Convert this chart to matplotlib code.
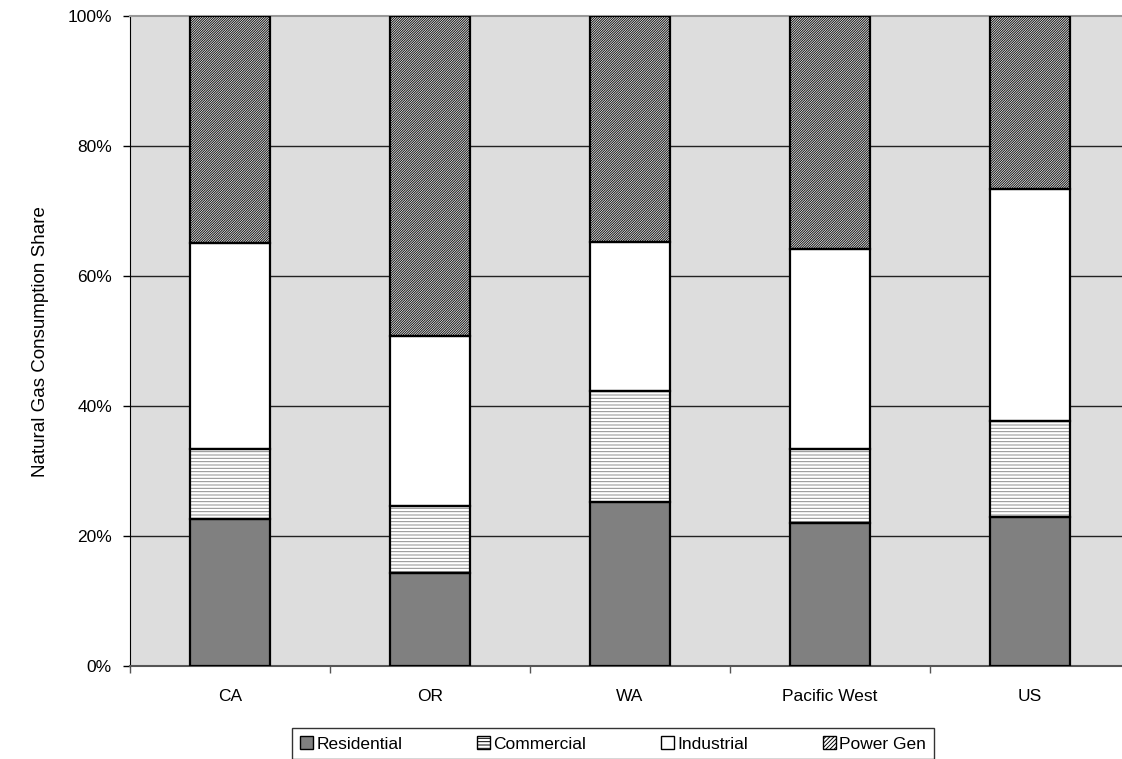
import numpy as np
import matplotlib
matplotlib.use("Agg")
import matplotlib.pyplot as plt
from matplotlib.ticker import FuncFormatter
from matplotlib.patches import Patch

plt.rcParams['font.family'] = ['Liberation Sans', 'DejaVu Sans']
plt.rcParams['hatch.linewidth'] = 0.7

# shares in percent
regions = ['CA', 'OR', 'WA', 'Pacific West', 'US']
residential = [22.6, 14.4, 25.3, 22.1, 23.0]
commercial = [10.8, 10.2, 17.1, 11.4, 14.8]
industrial = [31.8, 26.2, 22.9, 30.7, 35.7]
power_gen = [34.8, 49.2, 34.7, 35.8, 26.5]

series = [
    ('Residential', residential),
    ('Commercial', commercial),
    ('Industrial', industrial),
    ('Power Gen', power_gen),
]

fig = plt.figure(figsize=(11.22, 7.59), dpi=100)
# plot area runs off the right edge like the source image
ax = fig.add_axes([130/1122, 92.7/759, 1000/1122, 650/759])
ax.set_facecolor('#dddddd')

x = np.arange(len(regions))
w = 0.4
bottom = np.zeros(len(regions))

styles = {
    'Residential': dict(color='#808080', hatch=None, hcol='#808080'),
    'Commercial': dict(color='white', hatch='-----', hcol='#8c8c8c'),
    'Industrial': dict(color='white', hatch=None, hcol='white'),
    'Power Gen': dict(color='white', hatch='//////////////', hcol='#111111'),
}

for name, vals in series:
    vals = np.array(vals)
    st = styles[name]
    ax.bar(x, vals, w, bottom=bottom, color=st['color'], hatch=st['hatch'],
           edgecolor=st['hcol'], linewidth=0, zorder=3)
    ax.bar(x, vals, w, bottom=bottom, fill=False, edgecolor='black',
           linewidth=1.6, zorder=4)
    bottom = bottom + vals

ax.set_xlim(-0.5, len(regions) - 0.5)
ax.set_ylim(0, 100)
ax.set_yticks([0, 20, 40, 60, 80, 100])
ax.yaxis.set_major_formatter(FuncFormatter(lambda v, p: '%d%%' % v))
ax.set_xticks(x)
ax.set_xticklabels(regions, fontsize=12.5)
ax.set_xticks(np.arange(-0.5, len(regions), 1.0), minor=True)
ax.tick_params(axis='x', which='major', length=0, pad=16)
ax.tick_params(axis='x', which='minor', length=5, width=1, color='#555555', direction='out')
ax.tick_params(axis='y', length=5, width=1, labelsize=12.5, pad=8)

for v in [20, 40, 60, 80]:
    ax.axhline(v, color='#222222', linewidth=1, zorder=1)

ax.spines['top'].set_color('#999999')
ax.spines['top'].set_linewidth(1.5)
ax.spines['right'].set_visible(False)
ax.spines['left'].set_color('black')
ax.spines['bottom'].set_color('#555555')
ax.spines['bottom'].set_linewidth(1.5)

ax.set_ylabel('Natural Gas Consumption Share', fontsize=13.5, labelpad=13)

handles = []
for name, vals in series:
    st = styles[name]
    handles.append(Patch(facecolor=st['color'], hatch=st['hatch'] and st['hatch'][:8],
                         edgecolor='black', linewidth=1))
leg = fig.legend(handles, [s[0] for s in series], loc='lower center', ncol=4,
                 bbox_to_anchor=(613/1122, -0.012), frameon=True, fancybox=False,
                 edgecolor='black', fontsize=12.5, handlelength=0.75, handleheight=0.75,
                 handletextpad=0.2, columnspacing=4.3, borderpad=0.45)
leg.get_frame().set_linewidth(1)

fig.savefig('out.png', dpi=100)
